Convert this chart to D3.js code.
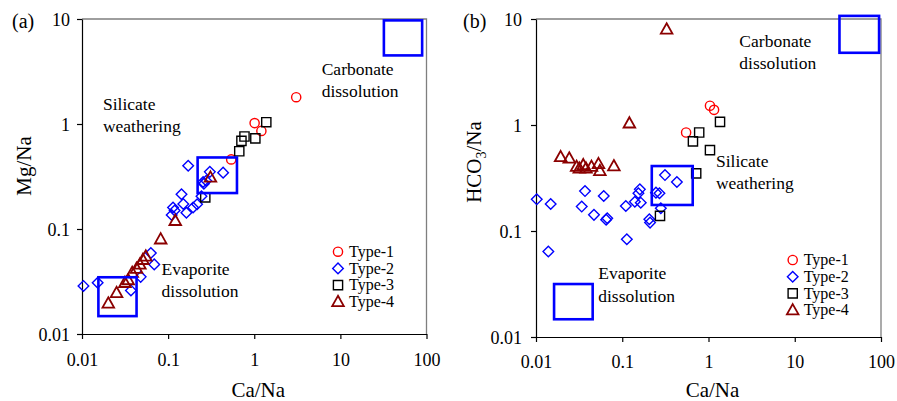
<!DOCTYPE html>
<html>
<head>
<meta charset="utf-8">
<script src="https://cdn.jsdelivr.net/npm/d3@7/dist/d3.min.js"></script>
<style>
  html, body { margin: 0; padding: 0; background: #fff; }
  svg text { font-family: "Liberation Serif", "Times New Roman", serif; fill: #000; }
</style>
</head>
<body>
<div id="chart"></div>
<script>
"use strict";

// ---- data: [Ca/Na, Mg/Na] for panel (a) ----
var aType1 = [[3.07, 1.80], [1.01, 1.02], [1.21, 0.86], [0.54, 0.46]];
var aType2 = [
  [0.0104, 0.0287], [0.0152, 0.0308], [0.037, 0.026], [0.048, 0.035], [0.063, 0.059], [0.069, 0.046],
  [0.171, 0.40], [0.435, 0.344], [0.305, 0.35], [0.277, 0.288], [0.26, 0.27], [0.255, 0.28],
  [0.143, 0.214], [0.244, 0.205], [0.114, 0.16], [0.15, 0.173], [0.195, 0.16], [0.217, 0.172],
  [0.163, 0.143], [0.11, 0.136], [0.119, 0.15]
];
var aType3 = [[1.38, 1.04], [0.77, 0.76], [0.71, 0.69], [1.03, 0.73], [0.67, 0.55], [0.27, 0.20]];
var aType4 = [
  [0.0202, 0.0196], [0.0252, 0.0247], [0.0315, 0.0308], [0.0344, 0.0327], [0.0383, 0.0384],
  [0.043, 0.042], [0.047, 0.046], [0.051, 0.051], [0.055, 0.055], [0.082, 0.080],
  [0.121, 0.12], [0.31, 0.31]
];

// ---- data: [Ca/Na, HCO3/Na] for panel (b) ----
var bType1 = [[1.04, 1.52], [1.16, 1.39], [0.55, 0.85]];
var bType2 = [
  [0.0102, 0.199], [0.0148, 0.18], [0.0139, 0.064], [0.037, 0.238], [0.0339, 0.17], [0.047, 0.142],
  [0.061, 0.214], [0.067, 0.132], [0.065, 0.128], [0.110, 0.172], [0.113, 0.0836], [0.14, 0.189],
  [0.154, 0.227], [0.16, 0.247], [0.164, 0.185], [0.246, 0.23], [0.27, 0.227], [0.206, 0.129],
  [0.21, 0.12], [0.28, 0.164], [0.313, 0.337], [0.43, 0.29]
];
var bType3 = [[1.36, 1.07], [0.78, 0.85], [0.66, 0.70], [1.04, 0.58], [0.72, 0.35], [0.274, 0.139]];
var bType4 = [
  [0.327, 8.0], [0.121, 1.04], [0.0193, 0.50], [0.0243, 0.485], [0.0296, 0.405], [0.0318, 0.39],
  [0.0353, 0.42], [0.038, 0.39], [0.044, 0.405], [0.053, 0.43], [0.055, 0.37], [0.080, 0.41]
];

// end-member boxes: [x0, x1, y0, y1]
var aBoxes = [[32, 89, 4.5, 9.7], [0.22, 0.63, 0.22, 0.48], [0.0155, 0.043, 0.0148, 0.0347]];
var bBoxes = [[33, 95, 4.8, 10.7], [0.22, 0.656, 0.176, 0.41], [0.0162, 0.0454, 0.0147, 0.0316]];

// annotation labels: [x, y, line1, line2]
var aLabels = [[6.07, 2.93, "Carbonate", "dissolution"], [0.0175, 1.36, "Silicate", "weathering"], [0.084, 0.0365, "Evaporite", "dissolution"]];
var bLabels = [[2.28, 5.48, "Carbonate", "dissolution"], [1.22, 0.405, "Silicate", "weathering"], [0.0527, 0.035, "Evaporite", "dissolution"]];

var typeNames = ["Type-1", "Type-2", "Type-3", "Type-4"];
var xTicks = [0.01, 0.1, 1, 10, 100];
var xTickLabels = ["0.01", "0.1", "1", "10", "100"];
var yTicks = [0.01, 0.1, 1, 10];
var yTickLabels = ["0.01", "0.1", "1", "10"];

var width = 897, height = 401;

var svg = d3.select("#chart").append("svg")
  .attr("width", width)
  .attr("height", height);

// marker styles, one per type
var markerStyles = [
  { shape: "circle", color: "#ff0000" },
  { shape: "diamond", color: "#0000ff" },
  { shape: "square", color: "#000000" },
  { shape: "triangle", color: "#8b0000" }
];

function markerPath(shape) {
  if (shape === "circle") return "M4.6,0A4.6,4.6 0 1,1 -4.6,0A4.6,4.6 0 1,1 4.6,0Z";
  if (shape === "diamond") return "M0,-5.3L5.3,0L0,5.3L-5.3,0Z";
  if (shape === "square") return "M-4.6,-4.6H4.6V4.6H-4.6Z";
  return "M0,-6L5.8,4.3H-5.8Z";
}

function drawMarkers(g, pts, style, x, y) {
  g.append("g").selectAll("path").data(pts).enter()
    .append("path")
    .attr("d", markerPath(style.shape))
    .attr("transform", function (d) { return "translate(" + x(d[0]) + "," + y(d[1]) + ")"; })
    .attr("fill", "none")
    .attr("stroke", style.color)
    .attr("stroke-width", style.shape === "triangle" ? 1.8 : 1.4);
}

function drawPanel(cfg) {
  var x = d3.scaleLog().domain([0.01, 100]).range([cfg.left, cfg.right]);
  var y = d3.scaleLog().domain([0.01, 10]).range([cfg.bottom, cfg.top]);
  var g = svg.append("g");

  // gray frame on top and right
  g.append("path")
    .attr("d", "M" + cfg.left + "," + cfg.top + "H" + cfg.right + "V" + cfg.bottom)
    .attr("fill", "none")
    .attr("stroke", "#7f7f7f")
    .attr("stroke-width", 1.3);

  // axes
  var xAxis = d3.axisBottom(x).tickValues(xTicks)
    .tickFormat(function (d, i) { return xTickLabels[i]; })
    .tickSizeInner(5).tickSizeOuter(0);
  var gx = g.append("g").attr("transform", "translate(0," + cfg.bottom + ")").call(xAxis);
  gx.selectAll("text").attr("y", cfg.xLabelOffset).attr("dy", 0)
    .style("font-size", "18px").style("font-family", "Liberation Serif, Times New Roman, serif");

  var yAxis = d3.axisLeft(y).tickValues(yTicks)
    .tickFormat(function (d, i) { return yTickLabels[i]; })
    .tickSizeInner(5).tickSizeOuter(0);
  var gy = g.append("g").attr("transform", "translate(" + cfg.left + ",0)").call(yAxis);
  gy.selectAll("text").attr("x", -cfg.yLabelGap).attr("dy", "0.34em")
    .style("font-size", "18px").style("font-family", "Liberation Serif, Times New Roman, serif");

  [gx, gy].forEach(function (a) {
    a.select(".domain").attr("stroke", "#000").attr("stroke-width", 1.2);
    a.selectAll(".tick line").attr("stroke", "#000").attr("stroke-width", 1.2);
  });

  // data
  cfg.series.forEach(function (pts, i) {
    drawMarkers(g, pts, markerStyles[i], x, y);
  });

  // end-member boxes
  g.selectAll("rect.box").data(cfg.boxes).enter()
    .append("rect")
    .attr("class", "box")
    .attr("x", function (d) { return x(d[0]); })
    .attr("y", function (d) { return y(d[3]); })
    .attr("width", function (d) { return x(d[1]) - x(d[0]); })
    .attr("height", function (d) { return y(d[2]) - y(d[3]); })
    .attr("fill", "none")
    .attr("stroke", "#0000ff")
    .attr("stroke-width", 2.6);

  // annotations
  cfg.labels.forEach(function (l) {
    var t = g.append("text")
      .attr("x", x(l[0]))
      .attr("y", y(l[1]))
      .style("font-size", "17.5px");
    t.append("tspan").attr("x", x(l[0])).text(l[2]);
    t.append("tspan").attr("x", x(l[0])).attr("dy", 22.5).text(l[3]);
  });

  // legend
  var lg = g.append("g").attr("transform", "translate(" + (cfg.left + cfg.legendX) + "," + (cfg.top + cfg.legendY) + ")");
  typeNames.forEach(function (name, i) {
    var row = lg.append("g").attr("transform", "translate(0," + (i * 16.7) + ")");
    row.append("path")
      .attr("d", markerPath(markerStyles[i].shape))
      .attr("fill", "none")
      .attr("stroke", markerStyles[i].color)
      .attr("stroke-width", markerStyles[i].shape === "triangle" ? 1.8 : 1.4);
    row.append("text").attr("x", 11).attr("y", 5.3).style("font-size", "16px").text(name);
  });

  // axis titles
  g.append("text")
    .attr("x", (cfg.left + cfg.right) / 2 + 4)
    .attr("y", 397)
    .attr("text-anchor", "middle")
    .style("font-size", "21px")
    .text("Ca/Na");

  var yt = g.append("text")
    .attr("transform", "translate(" + cfg.yTitleX + "," + cfg.yTitleY + ") rotate(-90)")
    .attr("text-anchor", "middle")
    .style("font-size", "21px");
  cfg.yTitle(yt);

  // panel letter
  g.append("text")
    .attr("x", cfg.letterX)
    .attr("y", 28)
    .style("font-size", "20px")
    .text(cfg.letter);
}

drawPanel({
  left: 82, right: 426.5, top: 19, bottom: 334,
  xLabelOffset: 32, yLabelGap: 12,
  series: [aType1, aType2, aType3, aType4],
  boxes: aBoxes, labels: aLabels,
  legendX: 256, legendY: 232.7,
  yTitleX: 31, yTitleY: 166,
  yTitle: function (t) { t.text("Mg/Na"); },
  letter: "(a)", letterX: 12
});

drawPanel({
  left: 536, right: 881, top: 19, bottom: 337,
  xLabelOffset: 31, yLabelGap: 14,
  series: [bType1, bType2, bType3, bType4],
  boxes: bBoxes, labels: bLabels,
  legendX: 256.7, legendY: 241,
  yTitleX: 481, yTitleY: 162,
  yTitle: function (t) {
    t.append("tspan").text("HCO");
    t.append("tspan").attr("dy", 5).style("font-size", "14px").text("3");
    t.append("tspan").attr("dy", -5).text("/Na");
  },
  letter: "(b)", letterX: 463
});
</script>
</body>
</html>
